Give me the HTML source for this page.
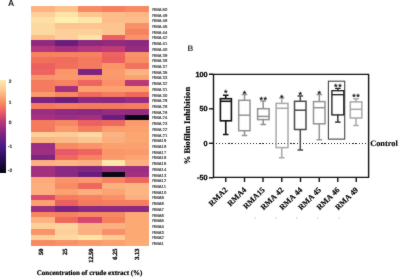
<!DOCTYPE html>
<html><head><meta charset="utf-8"><style>
html,body{margin:0;padding:0;background:#fff;width:400px;height:278px;overflow:hidden}
svg{display:block} #w{width:400px;height:278px;will-change:transform} text{text-rendering:geometricPrecision}
.ss{font-family:"Liberation Sans",sans-serif}
.sf{font-family:"Liberation Serif",serif;font-weight:bold}
</style></head><body>
<div id="w"><svg width="400" height="278" viewBox="0 0 400 278" shape-rendering="crispEdges">
<defs><filter id="bl" x="0" y="0" width="400" height="278" filterUnits="userSpaceOnUse" color-interpolation-filters="sRGB"><feConvolveMatrix order="3" kernelMatrix="1 2 1 2 28 2 1 2 1" edgeMode="duplicate"/></filter></defs>
<g filter="url(#bl)">
<rect width="400" height="278" fill="#fff"/>
<text class="ss" x="8.0" y="6.2" font-size="8.6" font-weight="bold" fill="#222">A</text>
<rect x="31.00" y="6.00" width="23.84" height="6.01" fill="#FCB383"/>
<rect x="54.54" y="6.00" width="23.84" height="6.01" fill="#FCC18D"/>
<rect x="78.08" y="6.00" width="23.84" height="6.01" fill="#F88A62"/>
<rect x="101.62" y="6.00" width="23.84" height="6.01" fill="#F57E5E"/>
<rect x="125.16" y="6.00" width="23.54" height="6.01" fill="#F88A62"/>
<rect x="31.00" y="11.71" width="23.84" height="6.01" fill="#FDCF9A"/>
<rect x="54.54" y="11.71" width="23.84" height="6.01" fill="#FDE3A6"/>
<rect x="78.08" y="11.71" width="23.84" height="6.01" fill="#FDC590"/>
<rect x="101.62" y="11.71" width="23.84" height="6.01" fill="#FCBD8B"/>
<rect x="125.16" y="11.71" width="23.54" height="6.01" fill="#FCB684"/>
<rect x="31.00" y="17.43" width="23.84" height="6.01" fill="#FDE0A5"/>
<rect x="54.54" y="17.43" width="23.84" height="6.01" fill="#FEF0B0"/>
<rect x="78.08" y="17.43" width="23.84" height="6.01" fill="#FDE7A8"/>
<rect x="101.62" y="17.43" width="23.84" height="6.01" fill="#FCBD8B"/>
<rect x="125.16" y="17.43" width="23.54" height="6.01" fill="#FCBD8B"/>
<rect x="31.00" y="23.14" width="23.84" height="6.01" fill="#FDD9A2"/>
<rect x="54.54" y="23.14" width="23.84" height="6.01" fill="#FCC590"/>
<rect x="78.08" y="23.14" width="23.84" height="6.01" fill="#FDC590"/>
<rect x="101.62" y="23.14" width="23.84" height="6.01" fill="#FCC590"/>
<rect x="125.16" y="23.14" width="23.54" height="6.01" fill="#F99068"/>
<rect x="31.00" y="28.86" width="23.84" height="6.01" fill="#FDD9A2"/>
<rect x="54.54" y="28.86" width="23.84" height="6.01" fill="#FDCF9A"/>
<rect x="78.08" y="28.86" width="23.84" height="6.01" fill="#FDD09B"/>
<rect x="101.62" y="28.86" width="23.84" height="6.01" fill="#FCC590"/>
<rect x="125.16" y="28.86" width="23.54" height="6.01" fill="#F7825F"/>
<rect x="31.00" y="34.57" width="23.84" height="6.01" fill="#FCBD8B"/>
<rect x="54.54" y="34.57" width="23.84" height="6.01" fill="#FDD09B"/>
<rect x="78.08" y="34.57" width="23.84" height="6.01" fill="#FDE3A6"/>
<rect x="101.62" y="34.57" width="23.84" height="6.01" fill="#EE5F62"/>
<rect x="125.16" y="34.57" width="23.54" height="6.01" fill="#F9936A"/>
<rect x="31.00" y="40.29" width="23.84" height="6.01" fill="#8E2A81"/>
<rect x="54.54" y="40.29" width="23.84" height="6.01" fill="#6A1C81"/>
<rect x="78.08" y="40.29" width="23.84" height="6.01" fill="#8A2981"/>
<rect x="101.62" y="40.29" width="23.84" height="6.01" fill="#8F2B81"/>
<rect x="125.16" y="40.29" width="23.54" height="6.01" fill="#8A2981"/>
<rect x="31.00" y="46.00" width="23.84" height="6.01" fill="#B5367A"/>
<rect x="54.54" y="46.00" width="23.84" height="6.01" fill="#A52F7C"/>
<rect x="78.08" y="46.00" width="23.84" height="6.01" fill="#B5367A"/>
<rect x="101.62" y="46.00" width="23.84" height="6.01" fill="#C03B76"/>
<rect x="125.16" y="46.00" width="23.54" height="6.01" fill="#952C80"/>
<rect x="31.00" y="51.71" width="23.84" height="6.01" fill="#F7825F"/>
<rect x="54.54" y="51.71" width="23.84" height="6.01" fill="#F7825F"/>
<rect x="78.08" y="51.71" width="23.84" height="6.01" fill="#F7825F"/>
<rect x="101.62" y="51.71" width="23.84" height="6.01" fill="#EE6360"/>
<rect x="125.16" y="51.71" width="23.54" height="6.01" fill="#F9936A"/>
<rect x="31.00" y="57.43" width="23.84" height="6.01" fill="#F1705C"/>
<rect x="54.54" y="57.43" width="23.84" height="6.01" fill="#F06C5C"/>
<rect x="78.08" y="57.43" width="23.84" height="6.01" fill="#F37A5E"/>
<rect x="101.62" y="57.43" width="23.84" height="6.01" fill="#EC5F60"/>
<rect x="125.16" y="57.43" width="23.54" height="6.01" fill="#F98D64"/>
<rect x="31.00" y="63.14" width="23.84" height="6.01" fill="#EC6060"/>
<rect x="54.54" y="63.14" width="23.84" height="6.01" fill="#F26F5C"/>
<rect x="78.08" y="63.14" width="23.84" height="6.01" fill="#F37A5E"/>
<rect x="101.62" y="63.14" width="23.84" height="6.01" fill="#FA9469"/>
<rect x="125.16" y="63.14" width="23.54" height="6.01" fill="#F2735D"/>
<rect x="31.00" y="68.86" width="23.84" height="6.01" fill="#EE6460"/>
<rect x="54.54" y="68.86" width="23.84" height="6.01" fill="#FA9669"/>
<rect x="78.08" y="68.86" width="23.84" height="6.01" fill="#7A2382"/>
<rect x="101.62" y="68.86" width="23.84" height="6.01" fill="#FB9A6C"/>
<rect x="125.16" y="68.86" width="23.54" height="6.01" fill="#FCB383"/>
<rect x="31.00" y="74.57" width="23.84" height="6.01" fill="#F9956A"/>
<rect x="54.54" y="74.57" width="23.84" height="6.01" fill="#FA9A6C"/>
<rect x="78.08" y="74.57" width="23.84" height="6.01" fill="#F9936A"/>
<rect x="101.62" y="74.57" width="23.84" height="6.01" fill="#FA9A6C"/>
<rect x="125.16" y="74.57" width="23.54" height="6.01" fill="#FBA36F"/>
<rect x="31.00" y="80.29" width="23.84" height="6.01" fill="#F57B5E"/>
<rect x="54.54" y="80.29" width="23.84" height="6.01" fill="#F7825F"/>
<rect x="78.08" y="80.29" width="23.84" height="6.01" fill="#EE6460"/>
<rect x="101.62" y="80.29" width="23.84" height="6.01" fill="#FA9068"/>
<rect x="125.16" y="80.29" width="23.54" height="6.01" fill="#B93878"/>
<rect x="31.00" y="86.00" width="23.84" height="6.01" fill="#F57B5E"/>
<rect x="54.54" y="86.00" width="23.84" height="6.01" fill="#A2307E"/>
<rect x="78.08" y="86.00" width="23.84" height="6.01" fill="#FBA16F"/>
<rect x="101.62" y="86.00" width="23.84" height="6.01" fill="#FBA06E"/>
<rect x="125.16" y="86.00" width="23.54" height="6.01" fill="#FBA06E"/>
<rect x="31.00" y="91.71" width="23.84" height="6.01" fill="#FA9A6C"/>
<rect x="54.54" y="91.71" width="23.84" height="6.01" fill="#F88860"/>
<rect x="78.08" y="91.71" width="23.84" height="6.01" fill="#F06B5C"/>
<rect x="101.62" y="91.71" width="23.84" height="6.01" fill="#F57B5E"/>
<rect x="125.16" y="91.71" width="23.54" height="6.01" fill="#F06A5C"/>
<rect x="31.00" y="97.43" width="23.84" height="6.01" fill="#7B2382"/>
<rect x="54.54" y="97.43" width="23.84" height="6.01" fill="#6A1C81"/>
<rect x="78.08" y="97.43" width="23.84" height="6.01" fill="#8A2981"/>
<rect x="101.62" y="97.43" width="23.84" height="6.01" fill="#882881"/>
<rect x="125.16" y="97.43" width="23.54" height="6.01" fill="#962D80"/>
<rect x="31.00" y="103.14" width="23.84" height="6.01" fill="#F47A5D"/>
<rect x="54.54" y="103.14" width="23.84" height="6.01" fill="#F57E5E"/>
<rect x="78.08" y="103.14" width="23.84" height="6.01" fill="#F47A5D"/>
<rect x="101.62" y="103.14" width="23.84" height="6.01" fill="#F37A5D"/>
<rect x="125.16" y="103.14" width="23.54" height="6.01" fill="#F57E5E"/>
<rect x="31.00" y="108.86" width="23.84" height="6.01" fill="#9A2E80"/>
<rect x="54.54" y="108.86" width="23.84" height="6.01" fill="#8E2A81"/>
<rect x="78.08" y="108.86" width="23.84" height="6.01" fill="#8A2981"/>
<rect x="101.62" y="108.86" width="23.84" height="6.01" fill="#942C80"/>
<rect x="125.16" y="108.86" width="23.54" height="6.01" fill="#932C80"/>
<rect x="31.00" y="114.57" width="23.84" height="6.01" fill="#A8317D"/>
<rect x="54.54" y="114.57" width="23.84" height="6.01" fill="#9B2E80"/>
<rect x="78.08" y="114.57" width="23.84" height="6.01" fill="#A3307E"/>
<rect x="101.62" y="114.57" width="23.84" height="6.01" fill="#6A1C81"/>
<rect x="125.16" y="114.57" width="23.54" height="6.01" fill="#0A0614"/>
<rect x="31.00" y="120.29" width="23.84" height="6.01" fill="#F57B5E"/>
<rect x="54.54" y="120.29" width="23.84" height="6.01" fill="#F88861"/>
<rect x="78.08" y="120.29" width="23.84" height="6.01" fill="#EC6160"/>
<rect x="101.62" y="120.29" width="23.84" height="6.01" fill="#F06A5C"/>
<rect x="125.16" y="120.29" width="23.54" height="6.01" fill="#FB9A6C"/>
<rect x="31.00" y="126.00" width="23.84" height="6.01" fill="#F47A5D"/>
<rect x="54.54" y="126.00" width="23.84" height="6.01" fill="#FA9A6C"/>
<rect x="78.08" y="126.00" width="23.84" height="6.01" fill="#F57E5E"/>
<rect x="101.62" y="126.00" width="23.84" height="6.01" fill="#FB9E6E"/>
<rect x="125.16" y="126.00" width="23.54" height="6.01" fill="#FBA16F"/>
<rect x="31.00" y="131.71" width="23.84" height="6.01" fill="#FDCF9A"/>
<rect x="54.54" y="131.71" width="23.84" height="6.01" fill="#FDCB96"/>
<rect x="78.08" y="131.71" width="23.84" height="6.01" fill="#FDD9A2"/>
<rect x="101.62" y="131.71" width="23.84" height="6.01" fill="#FCB383"/>
<rect x="125.16" y="131.71" width="23.54" height="6.01" fill="#FBA570"/>
<rect x="31.00" y="137.43" width="23.84" height="6.01" fill="#FCB684"/>
<rect x="54.54" y="137.43" width="23.84" height="6.01" fill="#FCBA88"/>
<rect x="78.08" y="137.43" width="23.84" height="6.01" fill="#FDC590"/>
<rect x="101.62" y="137.43" width="23.84" height="6.01" fill="#FCAE7E"/>
<rect x="125.16" y="137.43" width="23.54" height="6.01" fill="#FBA570"/>
<rect x="31.00" y="143.14" width="23.84" height="6.01" fill="#9A2E80"/>
<rect x="54.54" y="143.14" width="23.84" height="6.01" fill="#F88A62"/>
<rect x="78.08" y="143.14" width="23.84" height="6.01" fill="#F9936A"/>
<rect x="101.62" y="143.14" width="23.84" height="6.01" fill="#FBA16F"/>
<rect x="125.16" y="143.14" width="23.54" height="6.01" fill="#FBA16F"/>
<rect x="31.00" y="148.86" width="23.84" height="6.01" fill="#9F2F7F"/>
<rect x="54.54" y="148.86" width="23.84" height="6.01" fill="#E8596B"/>
<rect x="78.08" y="148.86" width="23.84" height="6.01" fill="#EE6460"/>
<rect x="101.62" y="148.86" width="23.84" height="6.01" fill="#FA9668"/>
<rect x="125.16" y="148.86" width="23.54" height="6.01" fill="#FA9A6C"/>
<rect x="31.00" y="154.57" width="23.84" height="6.01" fill="#7E2482"/>
<rect x="54.54" y="154.57" width="23.84" height="6.01" fill="#F06A5C"/>
<rect x="78.08" y="154.57" width="23.84" height="6.01" fill="#F7825F"/>
<rect x="101.62" y="154.57" width="23.84" height="6.01" fill="#FA9A6C"/>
<rect x="125.16" y="154.57" width="23.54" height="6.01" fill="#FCA572"/>
<rect x="31.00" y="160.29" width="23.84" height="6.01" fill="#FCB080"/>
<rect x="54.54" y="160.29" width="23.84" height="6.01" fill="#FCB684"/>
<rect x="78.08" y="160.29" width="23.84" height="6.01" fill="#FCB080"/>
<rect x="101.62" y="160.29" width="23.84" height="6.01" fill="#FDE7A8"/>
<rect x="125.16" y="160.29" width="23.54" height="6.01" fill="#FCB080"/>
<rect x="31.00" y="166.00" width="23.84" height="6.01" fill="#A3307E"/>
<rect x="54.54" y="166.00" width="23.84" height="6.01" fill="#8A2981"/>
<rect x="78.08" y="166.00" width="23.84" height="6.01" fill="#822681"/>
<rect x="101.62" y="166.00" width="23.84" height="6.01" fill="#9A2E80"/>
<rect x="125.16" y="166.00" width="23.54" height="6.01" fill="#9A2E80"/>
<rect x="31.00" y="171.71" width="23.84" height="6.01" fill="#A3307E"/>
<rect x="54.54" y="171.71" width="23.84" height="6.01" fill="#8A2981"/>
<rect x="78.08" y="171.71" width="23.84" height="6.01" fill="#6A1C81"/>
<rect x="101.62" y="171.71" width="23.84" height="6.01" fill="#0B0719"/>
<rect x="125.16" y="171.71" width="23.54" height="6.01" fill="#A3307E"/>
<rect x="31.00" y="177.43" width="23.84" height="6.01" fill="#FCAA7A"/>
<rect x="54.54" y="177.43" width="23.84" height="6.01" fill="#F99468"/>
<rect x="78.08" y="177.43" width="23.84" height="6.01" fill="#F9986A"/>
<rect x="101.62" y="177.43" width="23.84" height="6.01" fill="#F7845F"/>
<rect x="125.16" y="177.43" width="23.54" height="6.01" fill="#EF685C"/>
<rect x="31.00" y="183.14" width="23.84" height="6.01" fill="#FCAE7E"/>
<rect x="54.54" y="183.14" width="23.84" height="6.01" fill="#F88B64"/>
<rect x="78.08" y="183.14" width="23.84" height="6.01" fill="#EF685C"/>
<rect x="101.62" y="183.14" width="23.84" height="6.01" fill="#FCB080"/>
<rect x="125.16" y="183.14" width="23.54" height="6.01" fill="#FCB684"/>
<rect x="31.00" y="188.86" width="23.84" height="6.01" fill="#FCAE7E"/>
<rect x="54.54" y="188.86" width="23.84" height="6.01" fill="#FBA16F"/>
<rect x="78.08" y="188.86" width="23.84" height="6.01" fill="#FCAE7E"/>
<rect x="101.62" y="188.86" width="23.84" height="6.01" fill="#FBA570"/>
<rect x="125.16" y="188.86" width="23.54" height="6.01" fill="#FCB684"/>
<rect x="31.00" y="194.57" width="23.84" height="6.01" fill="#DD4A6F"/>
<rect x="54.54" y="194.57" width="23.84" height="6.01" fill="#F57B5E"/>
<rect x="78.08" y="194.57" width="23.84" height="6.01" fill="#F7825F"/>
<rect x="101.62" y="194.57" width="23.84" height="6.01" fill="#F99068"/>
<rect x="125.16" y="194.57" width="23.54" height="6.01" fill="#FCB080"/>
<rect x="31.00" y="200.29" width="23.84" height="6.01" fill="#FBA16F"/>
<rect x="54.54" y="200.29" width="23.84" height="6.01" fill="#EC5F60"/>
<rect x="78.08" y="200.29" width="23.84" height="6.01" fill="#F47A5D"/>
<rect x="101.62" y="200.29" width="23.84" height="6.01" fill="#F57E5E"/>
<rect x="125.16" y="200.29" width="23.54" height="6.01" fill="#F57E5E"/>
<rect x="31.00" y="206.00" width="23.84" height="6.01" fill="#9A2E80"/>
<rect x="54.54" y="206.00" width="23.84" height="6.01" fill="#7A2382"/>
<rect x="78.08" y="206.00" width="23.84" height="6.01" fill="#8A2981"/>
<rect x="101.62" y="206.00" width="23.84" height="6.01" fill="#8A2981"/>
<rect x="125.16" y="206.00" width="23.54" height="6.01" fill="#8A2981"/>
<rect x="31.00" y="211.71" width="23.84" height="6.01" fill="#F8875F"/>
<rect x="54.54" y="211.71" width="23.84" height="6.01" fill="#F7825F"/>
<rect x="78.08" y="211.71" width="23.84" height="6.01" fill="#F88A62"/>
<rect x="101.62" y="211.71" width="23.84" height="6.01" fill="#F88A62"/>
<rect x="125.16" y="211.71" width="23.54" height="6.01" fill="#FCA974"/>
<rect x="31.00" y="217.43" width="23.84" height="6.01" fill="#FCB282"/>
<rect x="54.54" y="217.43" width="23.84" height="6.01" fill="#EF685C"/>
<rect x="78.08" y="217.43" width="23.84" height="6.01" fill="#D8456F"/>
<rect x="101.62" y="217.43" width="23.84" height="6.01" fill="#F5805E"/>
<rect x="125.16" y="217.43" width="23.54" height="6.01" fill="#FCA974"/>
<rect x="31.00" y="223.14" width="23.84" height="6.01" fill="#FDCF9A"/>
<rect x="54.54" y="223.14" width="23.84" height="6.01" fill="#FDD49E"/>
<rect x="78.08" y="223.14" width="23.84" height="6.01" fill="#FCB383"/>
<rect x="101.62" y="223.14" width="23.84" height="6.01" fill="#FCB080"/>
<rect x="125.16" y="223.14" width="23.54" height="6.01" fill="#FCA974"/>
<rect x="31.00" y="228.86" width="23.84" height="6.01" fill="#F9936A"/>
<rect x="54.54" y="228.86" width="23.84" height="6.01" fill="#FDD09B"/>
<rect x="78.08" y="228.86" width="23.84" height="6.01" fill="#FCB080"/>
<rect x="101.62" y="228.86" width="23.84" height="6.01" fill="#F99068"/>
<rect x="125.16" y="228.86" width="23.54" height="6.01" fill="#FCA974"/>
<rect x="31.00" y="234.57" width="23.84" height="6.01" fill="#FDD09B"/>
<rect x="54.54" y="234.57" width="23.84" height="6.01" fill="#FDD9A2"/>
<rect x="78.08" y="234.57" width="23.84" height="6.01" fill="#FDE5A7"/>
<rect x="101.62" y="234.57" width="23.84" height="6.01" fill="#FDCB96"/>
<rect x="125.16" y="234.57" width="23.54" height="6.01" fill="#FCA974"/>
<rect x="31.00" y="240.29" width="23.84" height="5.71" fill="#F88A62"/>
<rect x="54.54" y="240.29" width="23.84" height="5.71" fill="#F9906A"/>
<rect x="78.08" y="240.29" width="23.84" height="5.71" fill="#FA9A6C"/>
<rect x="101.62" y="240.29" width="23.84" height="5.71" fill="#FBA16F"/>
<rect x="125.16" y="240.29" width="23.54" height="5.71" fill="#FCAA76"/>
<g class="ss" font-size="16.8" fill="#222" stroke="#222" stroke-width="0.48" shape-rendering="auto">
<text transform="translate(152.3,11) scale(0.25)">RMA 50</text>
<text transform="translate(152.3,17) scale(0.25)">RMA 49</text>
<text transform="translate(152.3,22) scale(0.25)">RMA 46</text>
<text transform="translate(152.3,28) scale(0.25)">RMA 45</text>
<text transform="translate(152.3,34) scale(0.25)">RMA 44</text>
<text transform="translate(152.3,39) scale(0.25)">RMA 42</text>
<text transform="translate(152.3,45) scale(0.25)">RMA 41</text>
<text transform="translate(152.3,51) scale(0.25)">RMA 40</text>
<text transform="translate(152.3,57) scale(0.25)">RMA 39</text>
<text transform="translate(152.3,62) scale(0.25)">RMA 38</text>
<text transform="translate(152.3,68) scale(0.25)">RMA 37</text>
<text transform="translate(152.3,74) scale(0.25)">RMA 35</text>
<text transform="translate(152.3,79) scale(0.25)">RMA 33</text>
<text transform="translate(152.3,85) scale(0.25)">RMA 32</text>
<text transform="translate(152.3,91) scale(0.25)">RMA 31</text>
<text transform="translate(152.3,97) scale(0.25)">RMA 30</text>
<text transform="translate(152.3,102) scale(0.25)">RMA 29</text>
<text transform="translate(152.3,108) scale(0.25)">RMA 28</text>
<text transform="translate(152.3,114) scale(0.25)">RMA 26</text>
<text transform="translate(152.3,119) scale(0.25)">RMA 24</text>
<text transform="translate(152.3,125) scale(0.25)">RMA 23</text>
<text transform="translate(152.3,131) scale(0.25)">RMA 22</text>
<text transform="translate(152.3,137) scale(0.25)">RMA 21</text>
<text transform="translate(152.3,142) scale(0.25)">RMA19</text>
<text transform="translate(152.3,148) scale(0.25)">RMA18</text>
<text transform="translate(152.3,154) scale(0.25)">RMA17</text>
<text transform="translate(152.3,159) scale(0.25)">RMA16</text>
<text transform="translate(152.3,165) scale(0.25)">RMA15</text>
<text transform="translate(152.3,171) scale(0.25)">RMA14</text>
<text transform="translate(152.3,177) scale(0.25)">RMA13</text>
<text transform="translate(152.3,182) scale(0.25)">RMA12</text>
<text transform="translate(152.3,188) scale(0.25)">RMA11</text>
<text transform="translate(152.3,194) scale(0.25)">RMA10</text>
<text transform="translate(152.3,199) scale(0.25)">RMA9</text>
<text transform="translate(152.3,205) scale(0.25)">RMA8</text>
<text transform="translate(152.3,211) scale(0.25)">RMA7</text>
<text transform="translate(152.3,217) scale(0.25)">RMA6</text>
<text transform="translate(152.3,222) scale(0.25)">RMA5</text>
<text transform="translate(152.3,228) scale(0.25)">RMA4</text>
<text transform="translate(152.3,234) scale(0.25)">RMA3</text>
<text transform="translate(152.3,239) scale(0.25)">RMA2</text>
<text transform="translate(152.3,245) scale(0.25)">RMA1</text>
</g>
<defs><linearGradient id="cb" x1="0" y1="0" x2="0" y2="1">
<stop offset="0" stop-color="#FDEBB0"/>
<stop offset="0.12" stop-color="#FDC690"/>
<stop offset="0.24" stop-color="#F98F62"/>
<stop offset="0.34" stop-color="#EC6060"/>
<stop offset="0.45" stop-color="#B8377A"/>
<stop offset="0.58" stop-color="#7E2482"/>
<stop offset="0.72" stop-color="#4A1685"/>
<stop offset="0.86" stop-color="#240C50"/>
<stop offset="1" stop-color="#05030E"/>
</linearGradient></defs>
<rect x="0" y="79.5" width="6.1" height="93.7" fill="url(#cb)"/>
<g class="ss" font-size="4.8" fill="#111" stroke="#111" stroke-width="0.2" shape-rendering="auto">
<text x="10" y="82.9" text-anchor="middle">2</text>
<text x="10" y="103.6" text-anchor="middle">1</text>
<text x="10" y="123.9" text-anchor="middle">0</text>
<text x="10" y="147.6" text-anchor="middle">-1</text>
<text x="10" y="171.8" text-anchor="middle">-2</text>
</g>
<g class="sf" font-size="6.3" fill="#000" stroke="#000" stroke-width="0.3" shape-rendering="auto">
<text transform="translate(43.05,248.6) rotate(-90)" text-anchor="end">50</text>
<text transform="translate(66.95,248.6) rotate(-90)" text-anchor="end">25</text>
<text transform="translate(92.55,248.6) rotate(-90)" text-anchor="end">12.50</text>
<text transform="translate(116.55,248.6) rotate(-90)" text-anchor="end">6.25</text>
<text transform="translate(139.45,248.6) rotate(-90)" text-anchor="end">3.13</text>
</g>
<text class="sf" x="36.7" y="274.9" font-size="7" fill="#000" stroke="#000" stroke-width="0.2" shape-rendering="auto">Concentration of crude extract (%)</text>
<text class="ss" x="187.6" y="51.2" font-size="8" font-weight="bold" fill="#3a3a3a">B</text>
<g stroke="#111" stroke-width="1.4" fill="none" shape-rendering="auto">
<path d="M209 74.4 H368.6 V177.4 H213.5 V74.4"/>
<path d="M209 74.33 H213.5"/>
<path d="M209 108.82 H213.5"/>
<path d="M209 143.30 H213.5"/>
<path d="M209 177.79 H213.5"/>
<path d="M225.75 177.4 V182"/>
<path d="M244.5 177.4 V182"/>
<path d="M263 177.4 V182"/>
<path d="M281.75 177.4 V182"/>
<path d="M300.5 177.4 V182"/>
<path d="M319.25 177.4 V182"/>
<path d="M337.75 177.4 V182"/>
<path d="M356.25 177.4 V182"/>
</g>
<path d="M215.9 143.35 H366.5" stroke="#222" stroke-width="1.2" stroke-dasharray="1.25 1.85" fill="none"/>
<g class="ss" font-size="7.3" font-weight="bold" fill="#000" stroke="#000" stroke-width="0.25" text-anchor="end" shape-rendering="auto">
<text x="207.6" y="76.83">100</text>
<text x="207.6" y="111.32">50</text>
<text x="207.6" y="145.80">0</text>
<text x="207.6" y="180.29">-50</text>
</g>
<text class="sf" font-size="8.7" fill="#000" stroke="#000" stroke-width="0.12" text-anchor="middle" transform="translate(190.0,125.6) rotate(-90)" shape-rendering="auto">% Biofilm Inhibition</text>
<text class="sf" x="370.2" y="145.8" font-size="8.3" fill="#000" stroke="#000" stroke-width="0.12" shape-rendering="auto">Control</text>
<rect x="328.4" y="81.2" width="16.3" height="57.9" fill="none" stroke="#444" stroke-width="1.1" shape-rendering="auto"/>
<g stroke="#111" stroke-width="1.6" fill="none" shape-rendering="auto">
<rect x="220.40" y="98.70" width="11.00" height="22.10"/>
<path d="M220.40 101.30 H231.40"/>
<path d="M225.75 98.70 V95.20 M222.95 95.20 H228.55"/>
<path d="M225.75 120.80 V134.50 M222.95 134.50 H228.55"/>
</g>
<text class="ss" x="225.75" y="96.40" font-size="9" font-weight="bold" fill="#111" text-anchor="middle" shape-rendering="auto">*</text>
<g stroke="#939393" stroke-width="1.5" fill="none" shape-rendering="auto">
<rect x="238.70" y="100.30" width="11.30" height="30.40"/>
<path d="M238.70 115.20 H250.00"/>
<path d="M244.50 100.30 V94.60 M241.70 94.60 H247.30"/>
<path d="M244.50 130.70 V135.50 M241.70 135.50 H247.30"/>
</g>
<text class="ss" x="244.50" y="96.60" font-size="9" font-weight="bold" fill="#111" text-anchor="middle" shape-rendering="auto">*</text>
<g stroke="#909090" stroke-width="1.5" fill="none" shape-rendering="auto">
<rect x="257.60" y="108.70" width="11.50" height="10.90"/>
<path d="M257.60 116.40 H269.10"/>
<path d="M263.20 108.70 V101.10 M260.40 101.10 H266.00"/>
<path d="M263.20 119.60 V124.60 M260.40 124.60 H266.00"/>
</g>
<text class="ss" x="261.15" y="102.60" font-size="9" font-weight="bold" fill="#111" text-anchor="middle" shape-rendering="auto">*</text>
<text class="ss" x="265.25" y="102.60" font-size="9" font-weight="bold" fill="#111" text-anchor="middle" shape-rendering="auto">*</text>
<g stroke="#a8a8a8" stroke-width="1.5" fill="none" shape-rendering="auto">
<rect x="276.10" y="103.40" width="11.90" height="44.20"/>
<path d="M276.10 108.30 H288.00"/>
<path d="M281.75 103.40 V97.90 M278.95 97.90 H284.55"/>
<path d="M281.75 147.60 V157.80 M278.95 157.80 H284.55"/>
</g>
<text class="ss" x="281.75" y="100.80" font-size="9" font-weight="bold" fill="#111" text-anchor="middle" shape-rendering="auto">*</text>
<g stroke="#4a4a4a" stroke-width="1.5" fill="none" shape-rendering="auto">
<rect x="294.50" y="101.30" width="11.50" height="28.20"/>
<path d="M294.50 110.20 H306.00"/>
<path d="M300.30 101.30 V96.10 M297.50 96.10 H303.10"/>
<path d="M300.30 129.50 V149.90 M297.50 149.90 H303.10"/>
</g>
<text class="ss" x="300.30" y="98.00" font-size="9" font-weight="bold" fill="#111" text-anchor="middle" shape-rendering="auto">*</text>
<g stroke="#939393" stroke-width="1.5" fill="none" shape-rendering="auto">
<rect x="313.50" y="101.60" width="11.50" height="22.20"/>
<path d="M313.50 107.70 H325.00"/>
<path d="M319.30 101.60 V94.60 M316.50 94.60 H322.10"/>
<path d="M319.30 123.80 V139.70 M316.50 139.70 H322.10"/>
</g>
<text class="ss" x="319.30" y="96.50" font-size="9" font-weight="bold" fill="#111" text-anchor="middle" shape-rendering="auto">*</text>
<g stroke="#1a1a1a" stroke-width="1.3" fill="none" shape-rendering="auto">
<rect x="331.90" y="90.70" width="11.90" height="24.20"/>
<path d="M331.90 94.70 H343.80"/>
<path d="M337.85 90.70 V88.40 M335.05 88.40 H340.65"/>
<path d="M337.85 114.90 V122.10 M335.05 122.10 H340.65"/>
</g>
<text class="ss" x="335.80" y="89.60" font-size="9" font-weight="bold" fill="#111" text-anchor="middle" shape-rendering="auto">*</text>
<text class="ss" x="339.90" y="89.60" font-size="9" font-weight="bold" fill="#111" text-anchor="middle" shape-rendering="auto">*</text>
<g stroke="#a8a8a8" stroke-width="1.5" fill="none" shape-rendering="auto">
<rect x="350.30" y="101.90" width="11.50" height="16.10"/>
<path d="M350.30 109.30 H361.80"/>
<path d="M356.00 101.90 V98.70 M353.20 98.70 H358.80"/>
<path d="M356.00 118.00 V125.40 M353.20 125.40 H358.80"/>
</g>
<text class="ss" x="353.95" y="100.10" font-size="9" font-weight="bold" fill="#111" text-anchor="middle" shape-rendering="auto">*</text>
<text class="ss" x="358.05" y="100.10" font-size="9" font-weight="bold" fill="#111" text-anchor="middle" shape-rendering="auto">*</text>
<g class="sf" font-size="8" fill="#000" stroke="#000" stroke-width="0.15" text-anchor="end" shape-rendering="auto">
<text transform="translate(228.05,190.3) rotate(-45)">RMA2</text>
<text transform="translate(246.80,190.3) rotate(-45)">RMA4</text>
<text transform="translate(265.30,190.3) rotate(-45)">RMA15</text>
<text transform="translate(284.05,190.3) rotate(-45)">RMA 42</text>
<text transform="translate(302.80,190.3) rotate(-45)">RMA 44</text>
<text transform="translate(321.55,190.3) rotate(-45)">RMA 45</text>
<text transform="translate(340.05,190.3) rotate(-45)">RMA 46</text>
<text transform="translate(358.55,190.3) rotate(-45)">RMA 49</text>
</g>
<rect x="254.6" y="217.4" width="1.2" height="1.2" fill="#c4c4c4" shape-rendering="auto"/>
<rect x="275.4" y="217.4" width="1.2" height="1.2" fill="#c4c4c4" shape-rendering="auto"/>
<rect x="296.0" y="217.4" width="1.2" height="1.2" fill="#c4c4c4" shape-rendering="auto"/>
<rect x="317.0" y="217.4" width="1.2" height="1.2" fill="#c4c4c4" shape-rendering="auto"/>
<rect x="338.6" y="217.4" width="1.2" height="1.2" fill="#c4c4c4" shape-rendering="auto"/>
</g></svg></div></body></html>
